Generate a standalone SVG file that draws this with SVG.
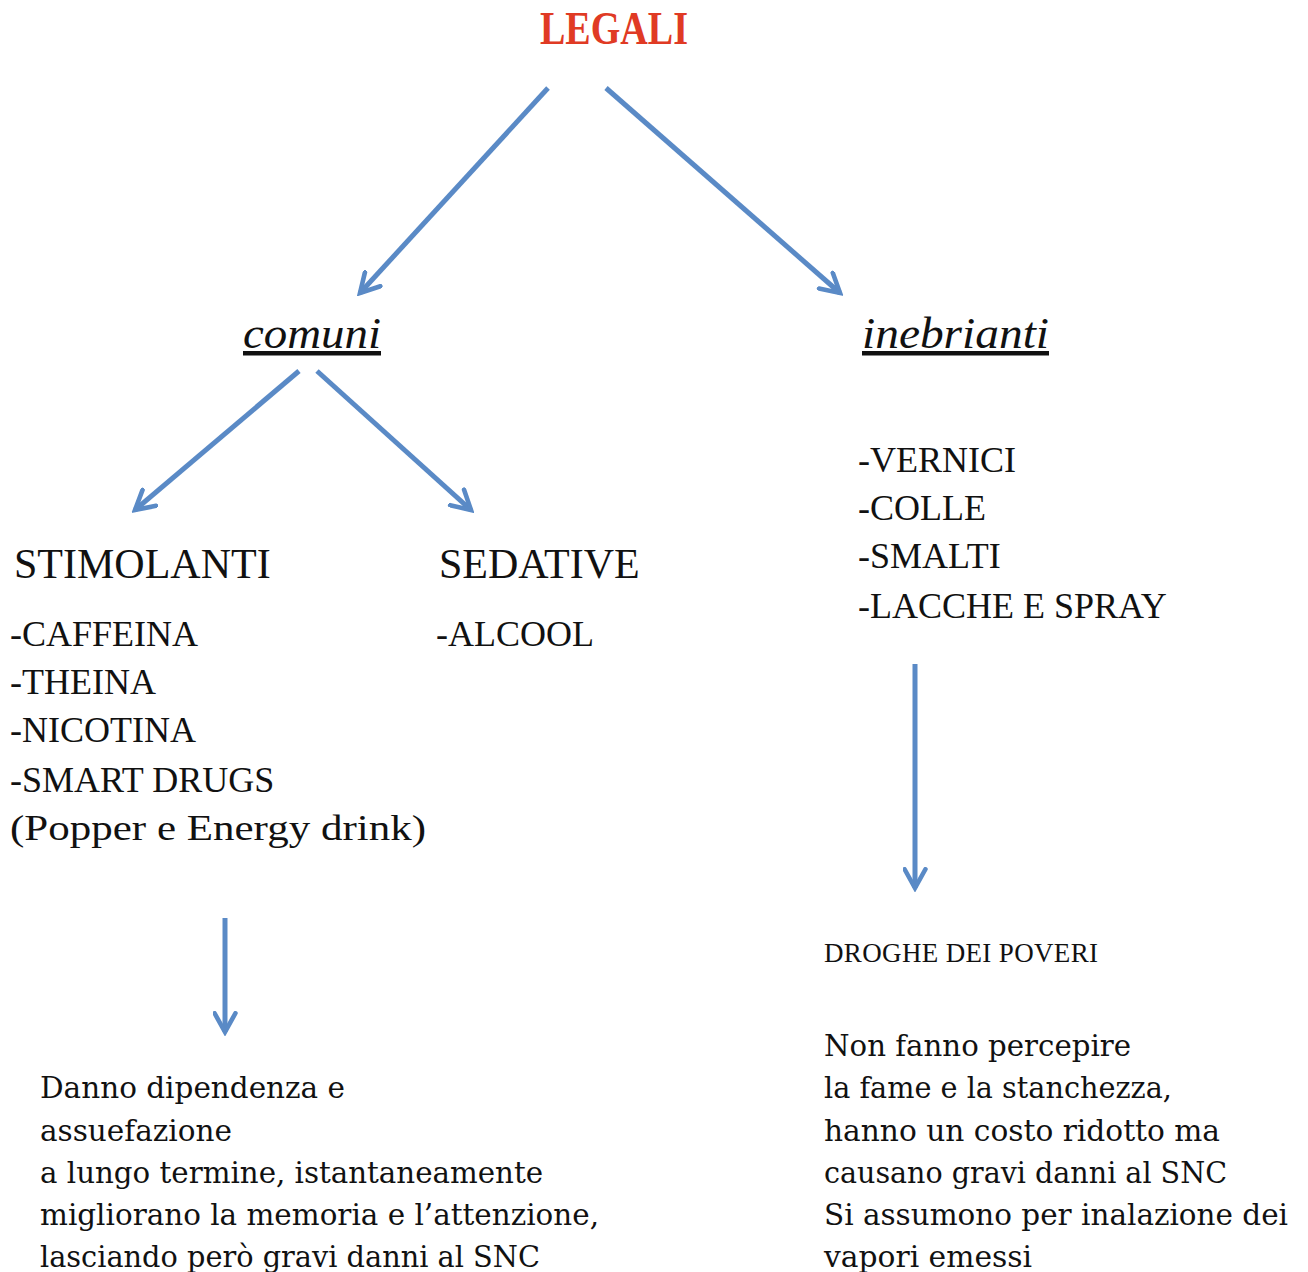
<svg xmlns="http://www.w3.org/2000/svg" width="1308" height="1272" viewBox="0 0 1308 1272">
<style>
text{font-family:"Liberation Serif","DejaVu Serif",serif;fill:#111}
.title{font-size:46px;font-weight:bold;fill:#E03A24}
.cat{font-size:45px;font-style:italic;text-decoration:underline}
.big{font-size:42px}
.item{font-size:36px}
.small{font-size:27px}
.para{font-family:"DejaVu Serif","Liberation Serif",serif;font-size:30px}
.conn{stroke:#5A8AC6;stroke-width:5;fill:none;marker-end:url(#ah)}
</style>
<defs>
<marker id="ah" viewBox="0 0 12 12" refX="10" refY="6" markerWidth="5" markerHeight="5" orient="auto" markerUnits="strokeWidth">
<path d="M1,1 L10,6 L1,11" fill="none" stroke="#5A8AC6" stroke-width="2.2" stroke-linejoin="miter" stroke-linecap="round"/>
</marker>
</defs>
<rect width="1308" height="1272" fill="#fff"/>
<g id="connectors">
<line class="conn" x1="548" y1="88" x2="360" y2="293"/>
<line class="conn" x1="606" y1="88" x2="840" y2="293"/>
<line class="conn" x1="299" y1="371" x2="135" y2="510"/>
<line class="conn" x1="317" y1="371" x2="471" y2="510"/>
<line class="conn" x1="915" y1="664" x2="915" y2="888"/>
<line class="conn" x1="225" y1="918" x2="225" y2="1032"/>
</g>
<g id="legali"><text class="title" x="540" y="44" textLength="148" lengthAdjust="spacingAndGlyphs">LEGALI</text></g>
<g id="comuni"><text class="cat" x="243" y="348" textLength="138" lengthAdjust="spacingAndGlyphs">comuni</text></g>
<g id="inebrianti"><text class="cat" x="862" y="348" textLength="187" lengthAdjust="spacingAndGlyphs">inebrianti</text></g>
<g id="stimolanti">
<text class="big" x="14" y="578">STIMOLANTI</text>
<text class="item" x="10" y="646">-CAFFEINA</text>
<text class="item" x="10" y="694">-THEINA</text>
<text class="item" x="10" y="742">-NICOTINA</text>
<text class="item" x="10" y="792">-SMART DRUGS</text>
<text class="item" x="10" y="840" textLength="416" lengthAdjust="spacingAndGlyphs">(Popper e Energy drink)</text>
</g>
<g id="sedative">
<text class="big" x="439" y="578">SEDATIVE</text>
<text class="item" x="436" y="646">-ALCOOL</text>
</g>
<g id="inebrianti-list">
<text class="item" x="858" y="472">-VERNICI</text>
<text class="item" x="858" y="520">-COLLE</text>
<text class="item" x="858" y="568">-SMALTI</text>
<text class="item" x="858" y="618">-LACCHE E SPRAY</text>
</g>
<g id="droghe"><text class="small" x="824" y="962" textLength="274">DROGHE DEI POVERI</text></g>
<g id="effetti-inebrianti">
<text class="para" x="824" y="1056" textLength="307" lengthAdjust="spacingAndGlyphs">Non fanno percepire</text>
<text class="para" x="824" y="1098" textLength="348" lengthAdjust="spacingAndGlyphs">la fame e la stanchezza,</text>
<text class="para" x="824" y="1141" textLength="396" lengthAdjust="spacingAndGlyphs">hanno un costo ridotto ma</text>
<text class="para" x="824" y="1183" textLength="403" lengthAdjust="spacingAndGlyphs">causano gravi danni al SNC</text>
<text class="para" x="824" y="1225" textLength="464" lengthAdjust="spacingAndGlyphs">Si assumono per inalazione dei</text>
<text class="para" x="824" y="1267" textLength="208" lengthAdjust="spacingAndGlyphs">vapori emessi</text>
</g>
<g id="effetti-comuni">
<text class="para" x="40" y="1098" textLength="305" lengthAdjust="spacingAndGlyphs">Danno dipendenza e</text>
<text class="para" x="40" y="1141" textLength="192" lengthAdjust="spacingAndGlyphs">assuefazione</text>
<text class="para" x="40" y="1183" textLength="503" lengthAdjust="spacingAndGlyphs">a lungo termine, istantaneamente</text>
<text class="para" x="40" y="1225" textLength="559" lengthAdjust="spacingAndGlyphs">migliorano la memoria e l’attenzione,</text>
<text class="para" x="40" y="1267" textLength="500" lengthAdjust="spacingAndGlyphs">lasciando però gravi danni al SNC</text>
</g>
</svg>
